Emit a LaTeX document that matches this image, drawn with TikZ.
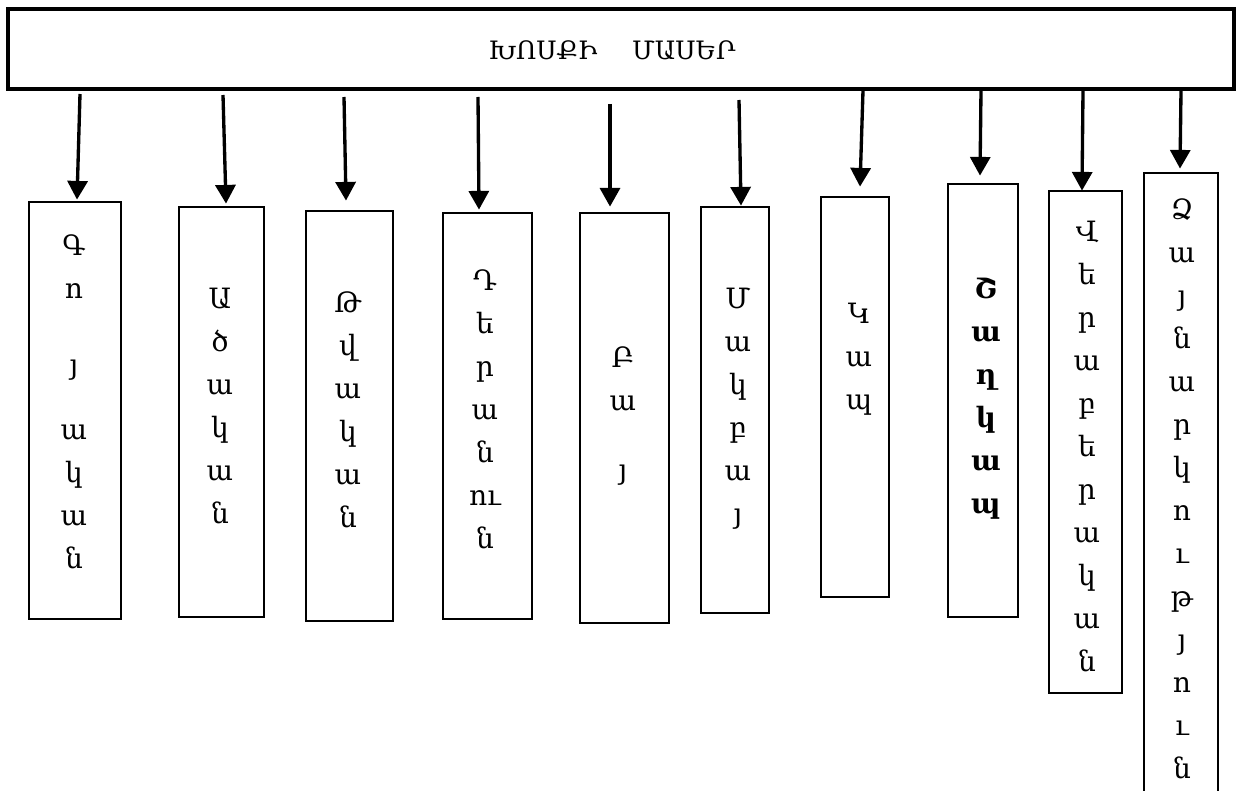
\documentclass[tikz,border=0pt]{standalone}
\usepackage{fontspec}
\setmainfont{DejaVu Serif}
\usetikzlibrary{arrows.meta,fit,calc}

\begin{document}
\begin{tikzpicture}[x=0.75pt,y=0.75pt,yscale=-1,xscale=1,
    box/.style={draw,line width=2.1pt,inner sep=0pt},
    arr/.style={line width=2.5pt,-{Triangle[width=15pt,length=14pt]}},
    letters/.style={align=center,inner sep=0pt,anchor=base,font=\fontsize{21}{32.25}\selectfont}]
    \useasboundingbox (0,0) rectangle (1241,791);

    %Shape: Rectangle [title]
    \node [box,line width=2.3pt,fit={(8,9) (1234,89)}] (parts) {};
    % Text Node
    \node [inner sep=0pt,anchor=base,font=\fontsize{19}{22}\selectfont] (partstxt) at (612,60) {ԽՈՍՔԻ\hspace{26pt}ՄԱՍԵՐ};

    %Shape: Rectangle [boxes]
    \node [box,fit={(29,202) (121,619)}] (noun) {};
    \node [box,fit={(179,207) (264,617)}] (adj) {};
    \node [box,fit={(306,211) (393,621)}] (num) {};
    \node [box,fit={(443,213) (532,619)}] (pron) {};
    \node [box,fit={(580,213) (669,623)}] (verb) {};
    \node [box,fit={(701,207) (769,613)}] (adv) {};
    \node [box,fit={(821,197) (889,597)}] (prep) {};
    \node [box,fit={(948,184) (1018,617)}] (conj) {};
    \node [box,fit={(1049,191) (1122,693)}] (part) {};
    \node [box,fit={(1144,173) (1218,805)}] (interj) {};

    % Text Node (anchored at the last line)
    \node [letters] (nountxt) at (74,568) {Գ\\ո\\[25pt]յ\\[16pt]ա\\կ\\ա\\ն};
    % Text Node
    \node [letters] (adjtxt) at (220,523) {Ա\\ծ\\ա\\կ\\ա\\ն};
    % Text Node
    \node [letters] (numtxt) at (348,527) {Թ\\վ\\ա\\կ\\ա\\ն};
    % Text Node
    \node [letters] (prontxt) at (485,548) {Դ\\ե\\ր\\ա\\ն\\ու\\ն};
    % Text Node
    \node [letters] (verbtxt) at (623,479) {Բ\\ա\\[19.5pt]յ};
    % Text Node
    \node [letters] (advtxt) at (738,523) {Մ\\ա\\կ\\բ\\ա\\յ};
    % Text Node
    \node [letters] (preptxt) at (859,409) {Կ\\ա\\պ};
    % Text Node
    \node [letters,font=\fontsize{21}{32.25}\selectfont\bfseries] (conjtxt) at (986,513) {Շ\\ա\\ղ\\կ\\ա\\պ};
    % Text Node
    \node [letters] (parttxt) at (1087,671) {Վ\\ե\\ր\\ա\\բ\\ե\\ր\\ա\\կ\\ա\\ն};
    % Text Node
    \node [letters] (interjtxt) at (1182,778) {Ձ\\ա\\յ\\ն\\ա\\ր\\կ\\ո\\ւ\\թ\\յ\\ո\\ւ\\ն};

    %Straight Lines [start points]
    \coordinate (s1) at (80,94);
    \coordinate (s2) at (223,95);
    \coordinate (s3) at (344,97);
    \coordinate (s4) at (478,97);
    \coordinate (s5) at (610,104);
    \coordinate (s6) at (739,100);
    \coordinate (s7) at (parts.south -| 863,0);
    \coordinate (s8) at (parts.south -| 981,0);
    \coordinate (s9) at (parts.south -| 1083,0);
    \coordinate (s10) at (parts.south -| 1181,0);

    %Straight Lines [arrows]
    \draw [arr] (s1) -- ($(noun.north)+(2,-1)$);
    \draw [arr] (s2) -- ($(adj.north)+(4.5,-2)$);
    \draw [arr] (s3) -- ($(num.north)+(-3.5,-9)$);
    \draw [arr] (s4) -- ($(pron.north)+(-8.5,-2)$);
    \draw [arr] (s5) -- ($(verb.north)+(-14.5,-5)$);
    \draw [arr] (s6) -- ($(adv.north)+(6,0)$);
    \draw [arr] (s7) -- ($(prep.north)+(5,-9)$);
    \draw [arr] (s8) -- ($(conj.north)+(-3,-7)$);
    \draw [arr] (s9) -- ($(part.north)+(-3.5,1)$);
    \draw [arr] (s10) -- ($(interj.north)+(-1,-3)$);

\end{tikzpicture}
\end{document}
